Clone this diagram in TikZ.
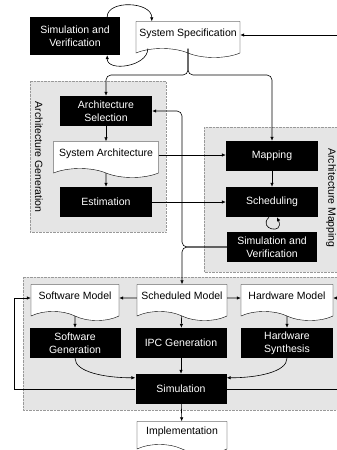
\documentclass[tikz,border=0pt]{standalone}
\usepackage{fontspec}
\setmainfont{Liberation Sans}
\usetikzlibrary{arrows.meta,shapes.symbols}

\tikzset{
  blk/.style={fill=black,text=white,minimum width=92,minimum height=30,inner sep=1,align=center,font=\fontsize{10.5}{13}\selectfont},
  doc/.style={draw,fill=white,tape,tape bend top=none,tape bend bottom=out and in,tape bend height=9,minimum height=36,inner sep=1,text height=8,text depth=6,font=\fontsize{10.5}{13}\selectfont},
  panel/.style={draw=gray!80,densely dotted,fill=gray!20},
  arr/.style={-{Latex[length=4,width=3.5]},line width=0.6},
  ln/.style={line width=0.6},
}

\begin{document}
\begin{tikzpicture}[x=1pt,y=1pt,yscale=-1]
\useasboundingbox (0,0) rectangle (337,450);
\clip (0,0) rectangle (337,450);

% panels
\draw[panel] (30,81) rectangle (166,232);
\draw[panel] (204,127) rectangle (345,272);
\draw[panel] (23,277) rectangle (345,410);
\node[rotate=-90,font=\fontsize{10.5}{13}\selectfont] (genlbl) at (39,157) {Architecture Generation};
\node[rotate=-90,font=\fontsize{10.5}{13}\selectfont] (maplbl) at (331,198) {Architecture Mapping};

% top
\node[blk,minimum width=90,minimum height=38] (simver) at (75,36) {Simulation and\\Verification};
\node[doc,minimum width=104] (spec) at (188,35) {System Specification};

% Architecture Generation
\node[blk] (archsel) at (106,111) {Architecture\\Selection};
\node[doc,minimum width=105] (sysarch) at (106,155) {System Architecture};
\node[blk] (estim) at (106,202) {Estimation};

% Architecture Mapping
\node[blk] (map) at (272,156) {Mapping};
\node[blk] (sched) at (272,202) {Scheduling};
\node[blk,minimum width=90] (simver2) at (272,247) {Simulation and\\Verification};

% models
\node[doc,minimum width=88] (swmod) at (75,298) {Software Model};
\node[doc,minimum width=90] (schedmod) at (182,298) {Scheduled Model};
\node[doc,minimum width=92] (hwmod) at (287,298) {Hardware Model};
\node[blk,minimum width=91] (swgen) at (75,343) {Software\\Generation};
\node[blk,minimum width=91] (ipc) at (181,343) {IPC Generation};
\node[blk,minimum width=92] (hwsyn) at (287,343) {Hardware\\Synthesis};
\node[blk,minimum width=91] (sim) at (181,389) {Simulation};
\node[doc,minimum width=90,minimum height=32] (impl) at (182,433) {Implementation};

\coordinate (split1) at (188,75);
\coordinate (split2) at (182,247);
\coordinate (rbus) at (350,0);

% connectors
\draw[arr] ([shift={(-13,0)}]simver.north east) .. controls +(0,-17) and +(0,-20) .. ([shift={(16,0)}]spec.north west);
\draw[arr] ([shift={(12,0)}]spec.south west) .. controls +(0,18) and +(0,17) .. ([shift={(-13,0)}]simver.south east);
\draw[arr,rounded corners=5] (spec.south) -- (split1) -| (archsel.north);
\draw[arr,rounded corners=5] (spec.south) -- (split1) -| (map.north);
\draw[arr] (archsel) -- (sysarch);
\draw[arr] (sysarch) -- (estim);
\draw[arr] (sysarch.east) -- (sysarch.east -| map.west);
\draw[arr] (estim) -- (sched);
\draw[arr] (map) -- (sched);
\draw[arr] ([shift={(-3,0)}]sched.south) .. controls +(-12,12) and +(8,18) .. ([shift={(5,0)}]sched.south);
\draw[arr,rounded corners=5] (simver2.west) -- (split2) |- (archsel.east);
\draw[arr,rounded corners=5] (simver2.west) -- (split2) -- (schedmod.north);
\draw[arr] (schedmod) -- (swmod);
\draw[arr] (schedmod) -- (hwmod);
\draw[arr] (swmod) -- (swgen);
\draw[arr] (schedmod) -- (ipc);
\draw[arr] (hwmod) -- (hwsyn);
\draw[arr] (swgen.south) .. controls +(0,14) and +(-30,0) .. ([shift={(0,4)}]sim.north west);
\draw[arr] (hwsyn.south) .. controls +(0,14) and +(30,0) .. ([shift={(0,4)}]sim.north east);
\draw[arr] (ipc) -- (sim);
\draw[arr] (sim) -- (impl);
\draw[arr] (sim.west) -- ++(-121,0) |- (swmod.west);
\draw[arr] (sim.east) -| (rbus |- spec.east) -- (spec.east);
\draw[arr] (rbus |- hwmod.east) -- (hwmod.east);

\end{tikzpicture}
\end{document}
